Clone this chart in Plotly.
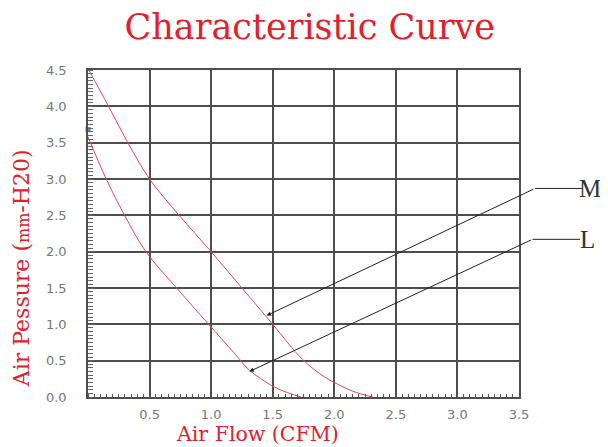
import plotly.graph_objects as go

# ---- data ----
m_flow = [0.0, 0.167, 0.323, 0.5, 0.74, 1.0, 1.25, 1.5, 1.74, 1.9, 2.0, 2.15, 2.31]
m_pressure = [4.52, 4.0, 3.5, 3.0, 2.5, 2.0, 1.5, 1.0, 0.52, 0.3, 0.2, 0.08, 0.0]
l_flow = [0.0, 0.148, 0.297, 0.47, 0.72, 0.98, 1.2, 1.31, 1.5, 1.62, 1.73]
l_pressure = [3.58, 3.0, 2.5, 2.0, 1.5, 1.0, 0.58, 0.37, 0.15, 0.06, 0.0]
marker_flow = [0.0]
marker_pressure = [3.68]

x_ticks = [0.5, 1.0, 1.5, 2.0, 2.5, 3.0, 3.5]
x_tick_labels = ["0.5", "1.0", "1.5", "2.0", "2.5", "3.0", "3.5"]
y_ticks = [0.0, 0.5, 1.0, 1.5, 2.0, 2.5, 3.0, 3.5, 4.0, 4.5]
y_tick_labels = ["0.0", "0.5", "1.0", "1.5", "2.0", "2.5", "3.0", "3.5", "4.0", "4.5"]

X_MAX, Y_MAX = 3.5, 4.5

# pointer: (tip flow, tip pressure, kink flow, kink pressure)
m_pointer = (1.45, 1.12, 3.63, 2.87)
l_pointer = (1.31, 0.35, 3.61, 2.17)

curve_color = "#e8455a"
red_text = "#e0202a"
grid_color = "#4d4d4d"

fig = go.Figure()
fig.add_trace(go.Scatter(x=m_flow, y=m_pressure, mode="lines",
                         line=dict(color=curve_color, width=1, shape="spline"),
                         showlegend=False, hoverinfo="skip"))
fig.add_trace(go.Scatter(x=l_flow, y=l_pressure, mode="lines",
                         line=dict(color=curve_color, width=1, shape="spline"),
                         showlegend=False, hoverinfo="skip"))
fig.add_trace(go.Scatter(x=marker_flow, y=marker_pressure, mode="markers",
                         marker=dict(color="#3a8ed8", size=5, symbol="square"),
                         cliponaxis=False, showlegend=False, hoverinfo="skip"))

axis_common = dict(
    showgrid=True, gridcolor=grid_color, gridwidth=1.5,
    showline=True, linecolor=grid_color, linewidth=1.5, mirror=True,
    zeroline=False, ticks="", tickfont=dict(family="DejaVu Sans", size=13, color="#777"),
)

fig.update_xaxes(range=[0, X_MAX], tickvals=x_ticks, ticktext=x_tick_labels,
                 minor=dict(dtick=0.05, ticks="inside", ticklen=3, tickcolor="#555", showgrid=False),
                 ticklabelstandoff=5, **axis_common)
fig.update_yaxes(range=[0, Y_MAX], tickvals=y_ticks, ticktext=y_tick_labels,
                 minor=dict(dtick=0.05, ticks="inside", ticklen=5, tickcolor="#666", showgrid=False),
                 ticklabelstandoff=17, **axis_common)

annotations = []
shapes = []
for (tx, ty, kx, ky), label in [(m_pointer, "M"), (l_pointer, "L")]:
    annotations.append(dict(x=tx, y=ty, xref="x", yref="y", ax=kx, ay=ky, axref="x", ayref="y",
                            text="", showarrow=True, arrowhead=2, arrowsize=0.9, arrowwidth=1,
                            arrowcolor="#222"))
    px0 = kx / X_MAX
    py0 = ky / Y_MAX
    px1 = px0 + 0.11
    shapes.append(dict(type="line", xref="paper", yref="paper", x0=px0, y0=py0, x1=px1, y1=py0,
                       line=dict(color="#222", width=1)))
    annotations.append(dict(x=px1, y=py0, xref="paper", yref="paper", text=label, showarrow=False,
                            xanchor="center", yanchor="middle", xshift=8,
                            font=dict(family="Liberation Serif", size=25, color="#333")))

annotations.append(dict(x=0.394, y=-0.113, xref="paper", yref="paper", text="Air Flow (CFM)",
                        showarrow=False, xanchor="center", yanchor="middle",
                        font=dict(family="DejaVu Serif", size=20.5, color=red_text)))
annotations.append(dict(x=0, y=0.394, xref="paper", yref="paper",
                        text="Air Pessure (<span style='font-size:16px'>mm</span>-H20)",
                        textangle=-90, showarrow=False, xanchor="center", yanchor="middle",
                        xshift=-67, font=dict(family="DejaVu Serif", size=22, color=red_text)))

fig.update_layout(
    width=600, height=439,
    margin=dict(l=80, r=89, t=62, b=50),
    paper_bgcolor="white", plot_bgcolor="white",
    title=dict(text="Characteristic Curve", x=0.503, xanchor="center", y=0.958, yanchor="middle",
               font=dict(family="DejaVu Serif", size=35, color=red_text)),
    annotations=annotations,
    shapes=shapes,
)

fig.write_html("out.html")
